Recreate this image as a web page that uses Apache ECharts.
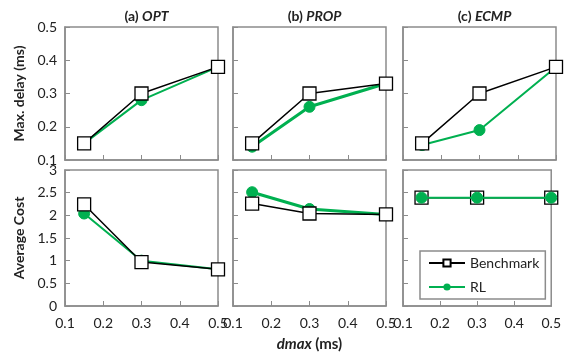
<!DOCTYPE html>
<html>
<head>
<meta charset="utf-8">
<script src="https://cdn.jsdelivr.net/npm/echarts@6/dist/echarts.min.js"></script>
<style>
  html, body { margin: 0; padding: 0; background: #fff; }
  #main { width: 564px; height: 353px; }
</style>
</head>
<body>
<div id="main"></div>
<script>
// dmax values (ms)
var dmax = [0.15, 0.3, 0.5];

// Max. delay (ms)
var optDelayBench = [0.15, 0.30, 0.38];
var optDelayRL = [0.15, 0.28, 0.38];
var propDelayBench = [0.15, 0.30, 0.33];
var propDelayRL = [0.14, 0.26, 0.33];
var ecmpDelayBench = [0.15, 0.30, 0.38];
var ecmpDelayRL = [0.145, 0.19, 0.38];

// Average Cost
var optCostBench = [2.24, 0.97, 0.81];
var optCostRL = [2.04, 1.0, 0.81];
var propCostBench = [2.26, 2.04, 2.02];
var propCostRL = [2.51, 2.14, 2.02];
var ecmpCostBench = [2.39, 2.39, 2.39];
var ecmpCostRL = [2.39, 2.39, 2.39];

var panelTitles = [['(a) ', 'OPT'], ['(b) ', 'PROP'], ['(c) ', 'ECMP']];

var myChart = echarts.init(document.getElementById('main'), null, { renderer: 'canvas' });
var FONT = 'Lato';
var GREEN = '#00b050';
var BORDER = '#8c8c8c';

var colLeft = [65, 233, 403];
var colWidth = 153;
var rows = [{ top: 27, height: 133 }, { top: 170, height: 136 }];

function pairs (ys)
{
    return dmax.map(function (x, i) { return [x, ys[i]]; });
}

var grids = [], xAxes = [], yAxes = [], series = [], titles = [];
var delayData = [[optDelayBench, optDelayRL], [propDelayBench, propDelayRL], [ecmpDelayBench, ecmpDelayRL]];
var costData = [[optCostBench, optCostRL], [propCostBench, propCostRL], [ecmpCostBench, ecmpCostRL]];
var greenWidths = [2, 3, 2];

for (var r = 0; r < 2; r++) {
    for (var c = 0; c < 3; c++) {
        var idx = r * 3 + c;
        grids.push({
            left: colLeft[c], width: colWidth,
            top: rows[r].top, height: rows[r].height,
            show: true, borderColor: BORDER, borderWidth: 1.5,
            backgroundColor: 'transparent'
        });
        xAxes.push({
            type: 'value', gridIndex: idx,
            min: 0.1, max: 0.5, interval: 0.1,
            axisLine: { show: true, lineStyle: { color: BORDER, width: 1.5 } },
            axisTick: { show: true, inside: true, length: 5, lineStyle: { color: BORDER } },
            splitLine: { show: false },
            axisLabel: {
                show: r === 1, color: '#222', fontFamily: FONT, fontSize: 14, margin: 10,
                formatter: function (v) { return v.toFixed(1); }
            },
            name: (r === 1 && c === 1) ? '{i|dmax} {n|(ms)}' : '',
            nameLocation: 'middle', nameGap: 31,
            nameTextStyle: {
                rich: {
                    i: { fontFamily: FONT, fontSize: 15, fontWeight: 'bold', fontStyle: 'italic', color: '#222' },
                    n: { fontFamily: FONT, fontSize: 15, fontWeight: 'bold', color: '#222' }
                }
            }
        });
        yAxes.push({
            type: 'value', gridIndex: idx,
            min: r === 0 ? 0.1 : 0,
            max: r === 0 ? 0.5 : 3,
            interval: r === 0 ? 0.1 : 0.5,
            axisLine: { show: true, lineStyle: { color: BORDER, width: 1.5 } },
            axisTick: { show: true, inside: true, length: 5, lineStyle: { color: BORDER } },
            splitLine: { show: false },
            axisLabel: {
                show: c === 0, color: '#222', fontFamily: FONT, fontSize: 14, margin: 8,
                formatter: function (v) { return String(+v.toFixed(1)); }
            },
            name: c === 0 ? (r === 0 ? 'Max. delay (ms)' : 'Average Cost') : '',
            nameLocation: 'middle', nameRotate: 90,
            nameGap: 39,
            nameTextStyle: { fontFamily: FONT, fontSize: 14, fontWeight: 'bold', color: '#222' }
        });

        var d = r === 0 ? delayData[c] : costData[c];
        var rlOnTop = (r === 1 && c === 2);
        series.push({
            name: 'Benchmark', type: 'line',
            xAxisIndex: idx, yAxisIndex: idx,
            data: pairs(d[0]),
            symbol: 'rect', symbolSize: 13,
            itemStyle: { color: '#fff', borderColor: '#000', borderWidth: 1.3 },
            lineStyle: { color: '#000', width: 1.5 },
            z: rlOnTop ? 2 : 4,
            animation: false
        });
        series.push({
            name: 'RL', type: 'line',
            xAxisIndex: idx, yAxisIndex: idx,
            data: pairs(d[1]),
            symbol: 'circle', symbolSize: 11,
            itemStyle: { color: GREEN, borderColor: GREEN },
            lineStyle: { color: GREEN, width: greenWidths[c] },
            z: rlOnTop ? 4 : 3,
            animation: false
        });
    }
}

for (var k = 0; k < 3; k++) {
    titles.push({
        text: '{b|' + panelTitles[k][0] + '}{i|' + panelTitles[k][1] + '}',
        left: colLeft[k] + colWidth / 2, top: 4, textAlign: 'center',
        textStyle: {
            rich: {
                b: { fontFamily: FONT, fontSize: 14, fontWeight: 'bold', color: '#222' },
                i: { fontFamily: FONT, fontSize: 14, fontWeight: 'bold', fontStyle: 'italic', color: '#222' }
            }
        }
    });
}

var option = {
    animation: false,
    backgroundColor: '#fff',
    title: titles,
    legend: {
        left: 420, top: 251, orient: 'vertical',
        itemWidth: 36, itemHeight: 9, itemGap: 10,
        padding: [5, 6, 5, 8],
        borderColor: BORDER, borderWidth: 1.5,
        backgroundColor: '#fff',
        textStyle: { fontFamily: FONT, fontSize: 14, color: '#222' },
        data: ['Benchmark', 'RL']
    },
    grid: grids,
    xAxis: xAxes,
    yAxis: yAxes,
    series: series
};
myChart.setOption(option);
</script>
</body>
</html>
